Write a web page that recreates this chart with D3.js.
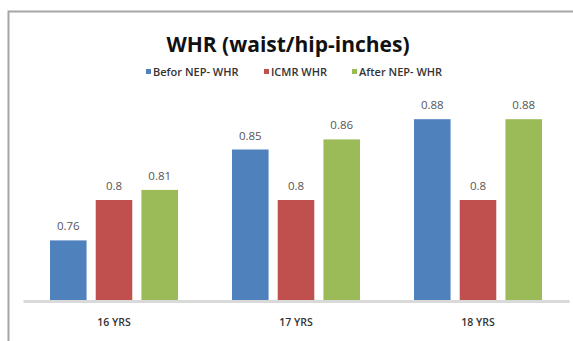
<!DOCTYPE html>
<html>
<head>
<meta charset="utf-8">
<script src="https://cdn.jsdelivr.net/npm/d3@7"></script>
<style>
  body { margin: 0; background: #fff; overflow: hidden; }
  svg { display: block; }
  text { font-family: "Open Sans", "Liberation Sans", sans-serif; }
</style>
</head>
<body>
<script>
// chart data
var categories = ["16 YRS", "17 YRS", "18 YRS"];
var seriesNames = ["Befor NEP- WHR", "ICMR WHR", "After NEP- WHR"];
var beforeNep = [0.76, 0.85, 0.88];
var icmr = [0.8, 0.8, 0.8];
var afterNep = [0.81, 0.86, 0.88];
var colors = ["#4f81bd", "#c0504d", "#9bbb59"];

var values = [beforeNep, icmr, afterNep];

var W = 573, H = 341;
var margin = {top: 99, right: 4, bottom: 40, left: 23};

var svg = d3.select("body").append("svg")
    .attr("width", W)
    .attr("height", H);

// outer chart frame, only the top and left edges are in view
svg.append("path")
    .attr("d", "M8.5," + H + "V11.5H" + W)
    .attr("fill", "none")
    .attr("stroke", "#a6a6a6")
    .attr("stroke-width", 2);

svg.append("text")
    .attr("x", 288).attr("y", 52)
    .attr("text-anchor", "middle")
    .attr("font-size", 21)
    .attr("font-weight", "bold")
    .attr("fill", "#111")
    .text("WHR (waist/hip-inches)");

// legend
var legendX = [146, 264, 352];
var legend = svg.selectAll(".legend")
    .data(seriesNames)
    .enter().append("g")
    .attr("class", "legend")
    .attr("transform", function (d, i) { return "translate(" + legendX[i] + ",72)"; });
legend.append("rect")
    .attr("x", 0).attr("y", -3)
    .attr("width", 5).attr("height", 5)
    .attr("fill", function (d, i) { return colors[i]; });
legend.append("text")
    .attr("x", 7).attr("y", 3.5)
    .attr("font-size", 11)
    .attr("font-weight", "600")
    .attr("fill", "#333")
    .text(function (d) { return d; });

var width = W - margin.left - margin.right,
    height = H - margin.top - margin.bottom;

var g = svg.append("g")
    .attr("transform", "translate(" + margin.left + "," + margin.top + ")");

var x0 = d3.scaleBand().domain(categories).range([0, width]).paddingInner(0).paddingOuter(0);
var x1 = d3.scaleBand().domain(d3.range(seriesNames.length))
    .range([27, x0.bandwidth() - 27]).paddingInner(0.2).paddingOuter(0);
var y = d3.scaleLinear().domain([0.7, 0.9]).range([height, 0]);

var groups = g.selectAll(".grp")
    .data(categories)
    .enter().append("g")
    .attr("class", "grp")
    .attr("transform", function (d) { return "translate(" + x0(d) + ",0)"; });

groups.selectAll("rect")
    .data(function (d, ci) { return values.map(function (s, si) { return {s: si, v: s[ci]}; }); })
    .enter().append("rect")
    .attr("x", function (d) { return x1(d.s); })
    .attr("width", x1.bandwidth())
    .attr("y", function (d) { return y(d.v); })
    .attr("height", function (d) { return height - y(d.v); })
    .attr("fill", function (d) { return colors[d.s]; });

groups.selectAll(".lbl")
    .data(function (d, ci) { return values.map(function (s, si) { return {s: si, v: s[ci]}; }); })
    .enter().append("text")
    .attr("class", "lbl")
    .attr("x", function (d) { return x1(d.s) + x1.bandwidth() / 2; })
    .attr("y", function (d) { return y(d.v) - 10; })
    .attr("text-anchor", "middle")
    .attr("font-size", 11.5)
    .attr("fill", "#555")
    .text(function (d) { return d.v; });

// x axis
var xAxis = g.append("g")
    .attr("transform", "translate(0," + height + ")")
    .call(d3.axisBottom(x0).tickSize(0).tickPadding(18));
xAxis.select(".domain").attr("stroke", "#d9d9d9").attr("stroke-width", 3);
xAxis.selectAll("text")
    .attr("font-size", 10.5)
    .attr("font-weight", "600")
    .attr("fill", "#333")
    .style("font-family", "'Open Sans', 'Liberation Sans', sans-serif");
</script>
</body>
</html>
